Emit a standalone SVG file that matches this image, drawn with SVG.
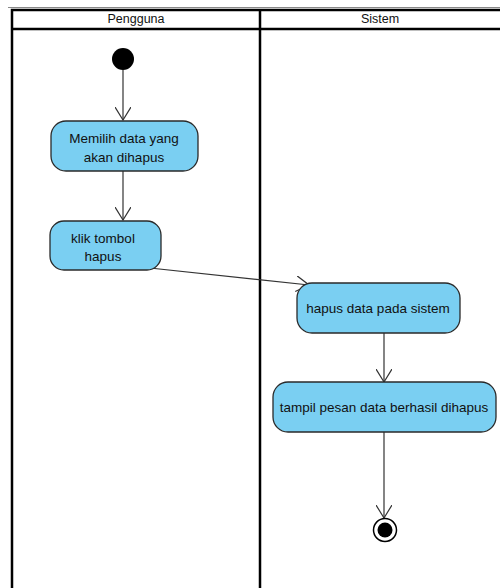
<svg xmlns="http://www.w3.org/2000/svg" width="500" height="588" viewBox="0 0 500 588">
<style>
.lane{fill:none;stroke:#000;stroke-width:2.5}
.act{fill:#7acff2;stroke:#2a2a2a;stroke-width:1.3}
.t{font-family:"Liberation Sans",Arial,sans-serif;font-size:13.5px;fill:#111;text-anchor:middle}
.c{stroke:#333;stroke-width:1.2;fill:none}
</style>
<defs>
<marker id="arr" markerWidth="14" markerHeight="16" refX="13" refY="8" orient="auto" markerUnits="userSpaceOnUse">
<path d="M0,0 L13,8 L0,16" fill="none" stroke="#333" stroke-width="1.2"/>
</marker>
</defs>
<g id="swimlanes">
<line x1="8" y1="7.5" x2="500" y2="7.5" stroke="#888" stroke-width="1"/>
<rect x="12" y="10" width="500" height="600" class="lane"/>
<line x1="12" y1="29" x2="500" y2="29" stroke="#000" stroke-width="2.5"/>
<line x1="260" y1="10" x2="260" y2="588" stroke="#000" stroke-width="2.5"/>
<text x="136" y="23" class="t" style="font-size:12.5px">Pengguna</text>
<text x="380" y="23" class="t" style="font-size:12.5px">Sistem</text>
</g>
<g id="connectors">
<line x1="123" y1="70" x2="123" y2="120" class="c" marker-end="url(#arr)"/>
<line x1="123" y1="171" x2="123" y2="220" class="c" marker-end="url(#arr)"/>
<line x1="150" y1="268" x2="309" y2="285" class="c" marker-end="url(#arr)"/>
<line x1="384" y1="333" x2="384" y2="382" class="c" marker-end="url(#arr)"/>
<line x1="384" y1="432" x2="384" y2="518" class="c" marker-end="url(#arr)"/>
</g>
<g id="start"><circle cx="123" cy="59" r="11" fill="#000"/></g>
<g id="n1">
<rect x="51" y="121" width="147" height="50" rx="15" class="act"/>
<text x="124" y="143" class="t">Memilih data yang</text>
<text x="124" y="162" class="t">akan dihapus</text>
</g>
<g id="n2">
<rect x="50" y="221" width="111" height="49" rx="14" class="act"/>
<text x="103" y="243" class="t">klik tombol</text>
<text x="103" y="261" class="t">hapus</text>
</g>
<g id="n3">
<rect x="297" y="283" width="163" height="50" rx="15" class="act"/>
<text x="378" y="313" class="t">hapus data pada sistem</text>
</g>
<g id="n4">
<rect x="273" y="382" width="223" height="50" rx="15" class="act"/>
<text x="384" y="412" class="t">tampil pesan data berhasil dihapus</text>
</g>
<g id="end">
<circle cx="385" cy="530" r="11.5" fill="#fff" stroke="#000" stroke-width="1.5"/>
<circle cx="385" cy="530" r="7.5" fill="#000"/>
</g>
</svg>
